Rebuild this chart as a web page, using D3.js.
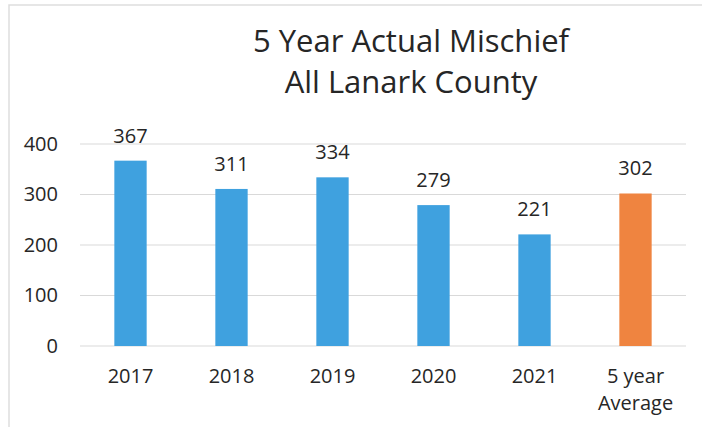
<!DOCTYPE html>
<html>
<head>
<meta charset="utf-8">
<script src="https://cdn.jsdelivr.net/npm/d3@7"></script>
<style>
    body { margin: 0; background: #fff; }
    text { font-family: "Open Sans", sans-serif; fill: #262626; }
</style>
</head>
<body>
<div id="chart"></div>
<script>
// chart data
const categories = ["2017", "2018", "2019", "2020", "2021", "5 year|Average"];
const values     = [367, 311, 334, 279, 221, 302];
const barColors  = ["#3fa1df", "#3fa1df", "#3fa1df", "#3fa1df", "#3fa1df", "#ef8440"];
const yTicks     = [0, 100, 200, 300, 400];
const titleLines = ["5 Year Actual Mischief", "All Lanark County"];

const width = 702, height = 427;
const margin = {top: 144, right: 16, bottom: 81, left: 80};

const svg = d3.select("#chart").append("svg")
    .attr("width", width)
    .attr("height", height);

// faint frame of the pasted chart
svg.append("path")
    .attr("d", "M 9 " + height + " L 9 5 L " + width + " 5")
    .attr("fill", "none")
    .attr("stroke", "#dedede")
    .attr("stroke-width", 1.5);

let x = d3.scaleBand()
    .domain(categories)
    .range([margin.left, width - margin.right])
    .paddingInner(0.68)
    .paddingOuter(0.34);

let y = d3.scaleLinear()
    .domain([0, 400])
    .range([height - margin.bottom, margin.top]);

// gridlines
svg.append("g")
    .selectAll("line")
    .data(yTicks)
    .enter()
    .append("line")
    .attr("x1", margin.left)
    .attr("x2", width - margin.right)
    .attr("y1", d => y(d))
    .attr("y2", d => y(d))
    .attr("stroke", "#d9d9d9")
    .attr("stroke-width", 1);

// y axis labels
let yAxis = svg.append("g")
    .attr("transform", "translate(" + (margin.left - 22) + ",0)")
    .call(d3.axisLeft(y).tickValues(yTicks).tickSize(0).tickPadding(0));
yAxis.select(".domain").remove();
yAxis.selectAll("text")
    .attr("font-size", 20)
    .attr("font-family", "Open Sans, sans-serif")
    .attr("fill", "#262626");

// bars
svg.append("g")
    .selectAll("rect")
    .data(values)
    .enter()
    .append("rect")
    .attr("x", (d, i) => x(categories[i]))
    .attr("y", d => y(d))
    .attr("width", x.bandwidth())
    .attr("height", d => y(0) - y(d))
    .attr("fill", (d, i) => barColors[i]);

// value labels
svg.append("g")
    .selectAll("text")
    .data(values)
    .enter()
    .append("text")
    .attr("x", (d, i) => x(categories[i]) + x.bandwidth() / 2)
    .attr("y", d => y(d) - 18)
    .attr("text-anchor", "middle")
    .attr("font-size", 20)
    .text(d => d);

// x labels (split on |)
let xl = svg.append("g")
    .selectAll("text")
    .data(categories)
    .enter()
    .append("text")
    .attr("x", d => x(d) + x.bandwidth() / 2)
    .attr("y", 383)
    .attr("text-anchor", "middle")
    .attr("font-size", 20);
xl.selectAll("tspan")
    .data(d => d.split("|").map((t, j) => ({t: t, j: j, cx: x(d) + x.bandwidth() / 2})))
    .enter()
    .append("tspan")
    .attr("x", d => d.cx)
    .attr("dy", d => d.j === 0 ? 0 : 27)
    .text(d => d.t);

// title
svg.append("g")
    .selectAll("text")
    .data(titleLines)
    .enter()
    .append("text")
    .attr("x", 411)
    .attr("y", (d, i) => 52 + i * 41)
    .attr("text-anchor", "middle")
    .attr("font-size", 31)
    .text(d => d);
</script>
</body>
</html>
